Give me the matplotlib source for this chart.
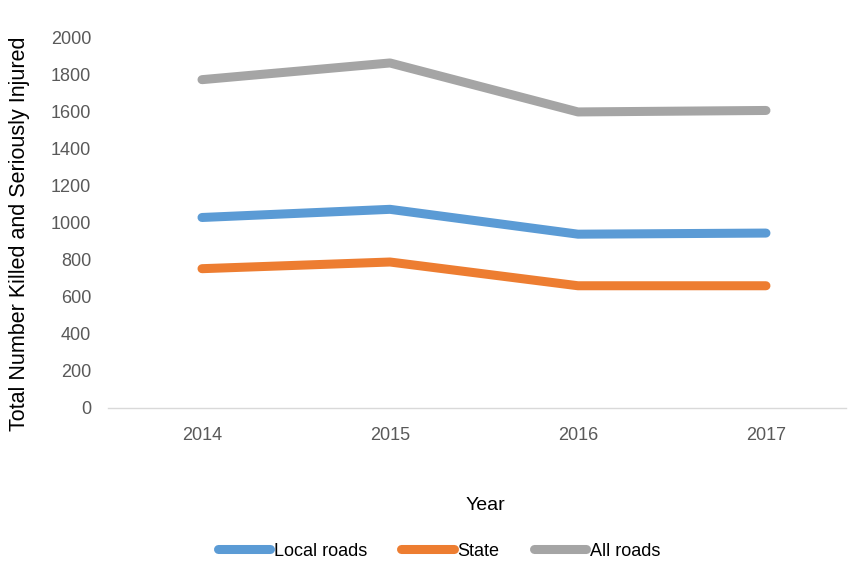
import matplotlib.pyplot as plt

plt.rcParams['font.family'] = ['Liberation Sans', 'DejaVu Sans']

years = ['2014', '2015', '2016', '2017']
local_roads = [1027, 1071, 937, 943]
state = [751, 787, 659, 659]
all_roads = [1770, 1860, 1596, 1604]

fig = plt.figure(figsize=(8.48, 5.63), dpi=100)
ax = fig.add_axes([108 / 848, 155 / 563, (846 - 108) / 848, (408 - 37) / 563])

x = range(len(years))
ax.plot(x, local_roads, color='#5B9BD5', lw=6.5, solid_capstyle='round', label='Local roads')
ax.plot(x, state, color='#ED7D31', lw=6.5, solid_capstyle='round', label='State')
ax.plot(x, all_roads, color='#A5A5A5', lw=6.5, solid_capstyle='round', label='All roads')

ax.set_xlim(-0.5, (846 - 203) / 187.7)
ax.set_ylim(0, 2000)
ax.set_yticks(range(0, 2001, 200))
ax.set_xticks(list(x))
ax.set_xticklabels(years)
ax.tick_params(axis='both', length=0, colors='#595959', labelsize=13)
ax.tick_params(axis='x', pad=14)
ax.tick_params(axis='y', pad=12)

for s in ['top', 'right', 'left']:
    ax.spines[s].set_visible(False)
ax.spines['bottom'].set_color('#D9D9D9')
ax.spines['bottom'].set_linewidth(1)

ax.set_ylabel('Total Number Killed and Seriously Injured', fontsize=15.5, color='black')
ax.yaxis.set_label_coords(-78 / 738, 0.47)
fig.text(485 / 848, 1 - 505 / 563, 'Year', fontsize=14, ha='center', va='center')

fig.legend(loc='center', bbox_to_anchor=(439 / 848, 1 - 551 / 563), ncol=3, frameon=False,
           fontsize=13, handlelength=2.9, handletextpad=0.2, columnspacing=1.9)

fig.savefig('out.png', dpi=100)
